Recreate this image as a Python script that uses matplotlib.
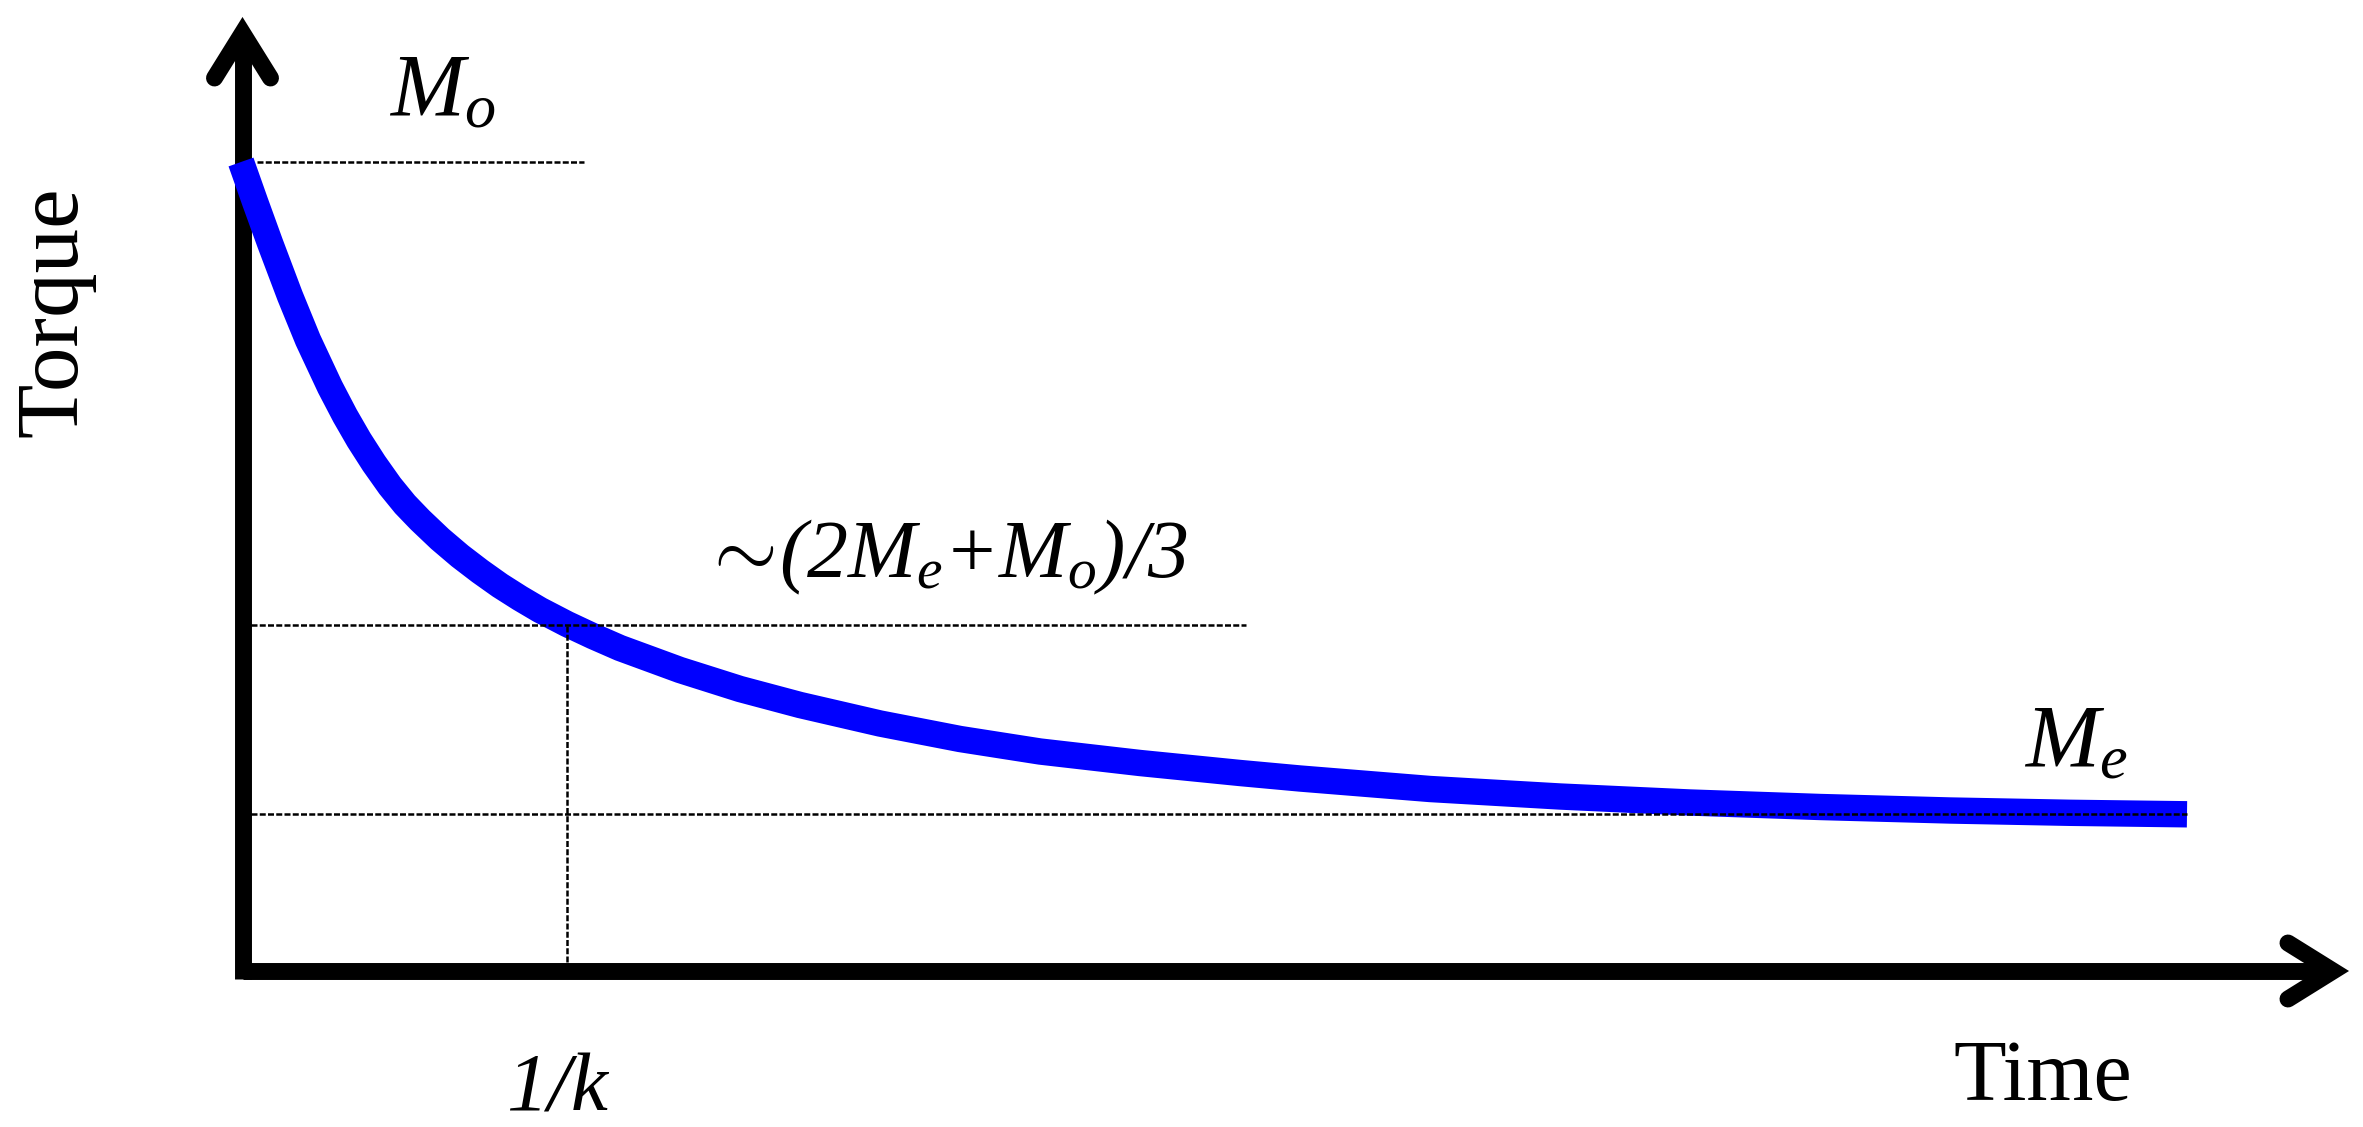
import matplotlib
matplotlib.use("Agg")
import matplotlib.pyplot as plt

plt.rcParams['font.family'] = ['Liberation Serif', 'DejaVu Serif']
plt.rcParams['mathtext.fontset'] = 'custom'
plt.rcParams['mathtext.rm'] = 'Liberation Serif'
plt.rcParams['mathtext.it'] = 'Liberation Serif:italic'
plt.rcParams['mathtext.bf'] = 'Liberation Serif:bold'

# ---- data (arbitrary units) ----
time_vals = [-0.015, 0.125, 0.275, 0.475, 0.655, 0.875, 1.025, 1.165, 1.315, 1.475,
             1.625, 1.775, 1.975, 2.175, 2.375, 2.575, 2.775, 2.975, 3.245, 3.505,
             3.775, 4.375, 4.975, 5.575, 6.375, 7.175, 7.975, 8.975, 9.975, 10.575,
             11.875, 13.175, 14.475, 15.775, 17.075, 18.275, 19.445]
torque_vals = [8.09, 7.694, 7.28, 6.75, 6.31, 5.84, 5.553, 5.31, 5.076, 4.85,
               4.666, 4.51, 4.32, 4.15, 3.997, 3.855, 3.728, 3.61, 3.47, 3.348,
               3.23, 3.01, 2.82, 2.66, 2.475, 2.32, 2.195, 2.08, 1.98, 1.925,
               1.82, 1.745, 1.685, 1.64, 1.605, 1.582, 1.567]

M0 = 8.09          # initial torque level
ME = 1.57          # equilibrium torque level
M_MID = 3.45       # ~(2Me+Mo)/3 level
T_K = 3.245        # 1/k

labels = {
    'ylabel': 'Torque',
    'xlabel': 'Time',
    'tk': '1/k',
    'm0': r'$M_o$',
    'mid': r'$\sim\!$(2$M_e$+$M_o$)/3',
    'me': r'$M_e$',
}

W, H, DPI = 2363, 1127, 100
fig = plt.figure(figsize=(W / DPI, H / DPI), dpi=DPI)
ax = fig.add_axes([0, 0, 1, 1])
ax.set_xlim(-2.425, 21.205)
ax.set_ylim(-1.56, 9.71)
ax.axis('off')

AX_LW = 12.2
# axes lines
ax.plot([0, 0], [-0.08, 9.38], color='black', lw=AX_LW, solid_capstyle='butt', zorder=1)
ax.plot([0, 20.905], [0, 0], color='black', lw=AX_LW, solid_capstyle='butt', zorder=1)
# arrow heads
ax.plot([-0.28, 0, 0.28], [8.93, 9.38, 8.93], color='black', lw=AX_LW,
        solid_joinstyle='miter', solid_capstyle='round', zorder=1)
ax.plot([20.455, 20.905, 20.455], [0.28, 0, -0.28], color='black', lw=AX_LW,
        solid_joinstyle='miter', solid_capstyle='round', zorder=1)

# decay curve
ax.plot(time_vals, torque_vals, color='#0000ff', lw=19, solid_capstyle='butt',
        solid_joinstyle='round', zorder=2)

# dashed reference lines
dkw = dict(color='black', lw=1.8, dashes=(2.4, 0.9), zorder=3)
ax.plot([0.145, 3.415], [M0, M0], **dkw)
ax.plot([0.08, 10.035], [M_MID + 0.01, M_MID + 0.01], **dkw)
ax.plot([0.08, 19.445], [ME, ME], **dkw)
ax.plot([T_K, T_K], [0.09, M_MID], **dkw)

# texts
ax.text(-1.875, 6.59, labels['ylabel'], rotation=90, ha='center', va='center', fontsize=64)
ax.text(18.0, -1.29, labels['xlabel'], ha='center', va='baseline', fontsize=62)
ax.text(3.145, -1.40, labels['tk'], ha='center', va='baseline', fontsize=60, fontstyle='italic')
ax.text(1.465, 8.56, labels['m0'], ha='left', va='baseline', fontsize=64)
ax.text(4.6, 3.94, labels['mid'], ha='left', va='baseline', fontsize=59, fontstyle='italic')
ax.text(17.815, 2.05, labels['me'], ha='left', va='baseline', fontsize=64)

fig.savefig('out.png', dpi=DPI, facecolor='white')
